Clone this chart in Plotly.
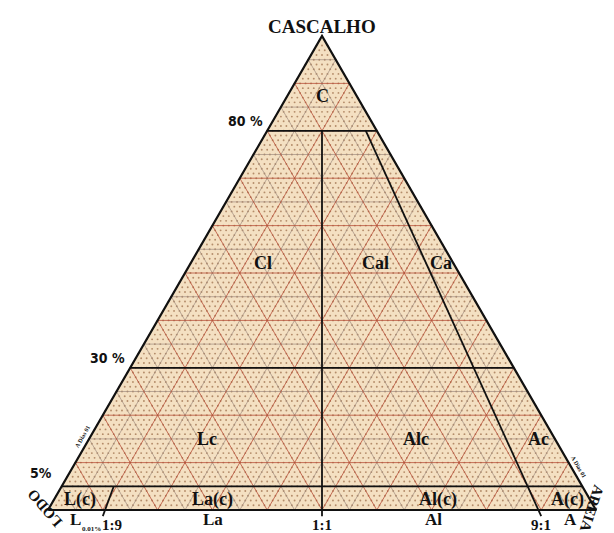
import plotly.graph_objects as go

# ---------------- data ----------------
corner_names = ["CASCALHO", "AREIA", "LODO"]
gravel_limits = [5, 30, 80]                 # % gravel class boundaries
ratio_values = [0.1, 0.5, 0.9]              # sand/(sand+mud) boundaries
ratio_labels = ["1:9", "1:1", "9:1"]
ratio_line_top = [5, 80, 80]                # % gravel where each ratio line stops
percent_labels = ["5%", "30 %", "80 %"]

class_labels = ["C", "Cl", "Cal", "Ca", "Lc", "Alc", "Ac",
                "L(c)", "La(c)", "Al(c)", "A(c)"]
class_gravel = [87.3, 52.1, 52.1, 52.1, 15.0, 15.0, 15.0, 2.3, 2.3, 2.3, 2.3]
class_ratio = [0.5, 0.275, 0.705, 0.953, 0.253, 0.702, 0.965, 0.048, 0.296, 0.717, 0.958]

base_labels = ["L", "La", "Al", "A"]        # gravel-free classes, written under the base
base_ratio = [0.051, 0.301, 0.704, 0.954]

# ---------------- helpers ----------------
def to_xy(g, r):
    """g = gravel fraction, r = sand/(sand+mud)"""
    return r * (1 - g) + g / 2, g

def from_gsm(g, s):
    return s + g / 2, g

BLACK = "#111111"
fig = go.Figure()

# triangle fill
tri_x, tri_y = [], []
for g, r in [(0, 0), (0, 1), (1, 0.5), (0, 0)]:
    x, y = to_xy(g, r); tri_x.append(x); tri_y.append(y)
fig.add_trace(go.Scatter(x=tri_x, y=tri_y, fill="toself", fillcolor="#f4e0c2",
                         mode="none", hoverinfo="skip"))

# lattice dots every 1 %
dx, dy = [], []
for i in range(101):
    for j in range(101 - i):
        x, y = from_gsm(i / 100, j / 100)
        dx.append(x); dy.append(y)
fig.add_trace(go.Scatter(x=dx, y=dy, mode="markers",
                         marker=dict(size=1.9, color="#b48c6a"), hoverinfo="skip"))

# grid lines every 5 % (red-brown every 10 %)
def grid_lines(steps):
    xs, ys = [], []
    for k in steps:
        f = k / 100
        x0, y0 = from_gsm(f, 0); x1, y1 = from_gsm(f, 1 - f)      # constant gravel
        xs += [x0, x1, None]; ys += [y0, y1, None]
        x0, y0 = from_gsm(0, f); x1, y1 = from_gsm(1 - f, f)      # constant sand
        xs += [x0, x1, None]; ys += [y0, y1, None]
        x0, y0 = from_gsm(0, 1 - f); x1, y1 = from_gsm(1 - f, 0)  # constant mud
        xs += [x0, x1, None]; ys += [y0, y1, None]
    return xs, ys

gx, gy = grid_lines([k for k in range(5, 100, 10)])
fig.add_trace(go.Scatter(x=gx, y=gy, mode="lines",
                         line=dict(color="#a08c80", width=0.7), hoverinfo="skip"))
gx, gy = grid_lines([k for k in range(10, 100, 10)])
fig.add_trace(go.Scatter(x=gx, y=gy, mode="lines",
                         line=dict(color="#b8503a", width=0.8), hoverinfo="skip"))

# class boundaries
bx, by = [], []
for gl in gravel_limits:
    g = gl / 100
    x0, y0 = to_xy(g, 0); x1, y1 = to_xy(g, 1)
    bx += [x0, x1, None]; by += [y0, y1, None]
for r, top in zip(ratio_values, ratio_line_top):
    x0, y0 = to_xy(0, r); x1, y1 = to_xy(top / 100, r)
    bx += [x0, x1, None]; by += [y0 - 0.013, y1, None]
fig.add_trace(go.Scatter(x=bx, y=by, mode="lines",
                         line=dict(color=BLACK, width=1.8), hoverinfo="skip"))

# outline
fig.add_trace(go.Scatter(x=tri_x, y=tri_y, mode="lines",
                         line=dict(color=BLACK, width=2.2), hoverinfo="skip"))

FONT = "Liberation Serif"
def ann(x, y, text, size=18, angle=0, **kw):
    fig.add_annotation(x=x, y=y, text=text, showarrow=False, textangle=angle,
                       font=dict(family=FONT, size=size, color=BLACK, weight="bold"), **kw)

for t, g, r in zip(class_labels, class_gravel, class_ratio):
    x, y = to_xy(g / 100, r)
    ann(x, y, t, 18)

for t, r in zip(base_labels, base_ratio):
    ann(r, -0.019, t, 17)

for t, r, xs in zip(ratio_labels, ratio_values, [9, 0, 0]):
    ann(r, -0.031, t, 15, xshift=xs)

shifts = [(-8, 3), (-3, 0), (-2, 0)]
for t, gl, (xs, ys) in zip(percent_labels, gravel_limits, shifts):
    x, y = to_xy(gl / 100, 0)
    fig.add_annotation(x=x, y=y, text=t, showarrow=False, xanchor="right", yanchor="bottom",
                       xshift=xs, yshift=ys,
                       font=dict(family="Liberation Sans Narrow, DejaVu Sans Condensed, Liberation Serif",
                                 size=14, color=BLACK, weight="bold"))

ann(0.5, 1.019, corner_names[0], 19)
ann(0.9930, 0.003, corner_names[1], 15, angle=108)
ann(-0.0055, 0.004, corner_names[2], 15, angle=-131)
ann(0.0800, -0.0400, "0.01%", 7)
ann(0.062, 0.155, "A Dias 01", 6, angle=-60)
ann(0.968, 0.09, "A Dias 01", 6, angle=60)

fig.update_layout(
    width=614, height=533, margin=dict(l=0, r=0, t=0, b=0),
    paper_bgcolor="white", plot_bgcolor="white", showlegend=False,
    xaxis=dict(range=[-40 / 548, 574 / 548], visible=False, fixedrange=True),
    yaxis=dict(range=[-31 / 474, 502 / 474], visible=False, fixedrange=True),
)
fig.write_html("out.html")
